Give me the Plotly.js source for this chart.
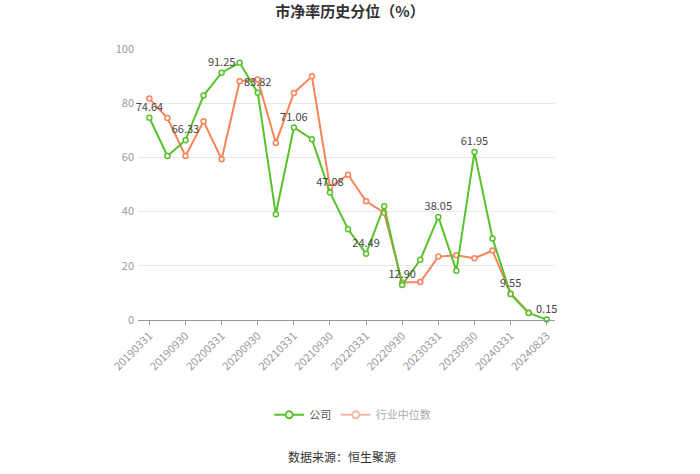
<!DOCTYPE html>
<html>
<head>
<meta charset="utf-8">
<script src="https://cdn.plot.ly/plotly-3.0.1.min.js"></script>
<style>html,body{margin:0;padding:0;background:#fff;}#chart{width:700px;height:474px;}</style>
</head>
<body>
<div id="chart"></div>
<script>
const dates = ['20190331','20190630','20190930','20191231','20200331','20200630','20200930','20201231','20210331','20210630','20210930','20211231','20220331','20220630','20220930','20221231','20230331','20230630','20230930','20231231','20240331','20240630','20240823'];
const company = [74.64, 60.5, 66.33, 82.8, 91.25, 94.9, 83.82, 39.0, 71.06, 66.7, 47.08, 33.5, 24.49, 42.0, 12.90, 22.2, 38.05, 18.2, 61.95, 30.1, 9.55, 2.6, 0.15];
const industry = [81.7, 74.5, 60.5, 73.3, 59.3, 88.1, 88.7, 65.3, 83.8, 89.9, 49.0, 53.6, 43.8, 39.6, 13.8, 14.0, 23.4, 23.9, 22.8, 25.6, 9.8, 2.8, null];
const tickDates = dates.filter((d, i) => i % 2 === 0);
const companyLabels = company.map((v, i) => i % 2 === 0 ? v.toFixed(2) : '');

const green = '#58c22c';
const orange = '#f7845a';
const font = '"Noto Sans CJK SC", "Noto Sans", sans-serif';

const traces = [
  {
    x: dates, y: industry, type: 'scatter', mode: 'lines+markers',
    line: {color: orange, width: 2},
    marker: {symbol: 'circle', size: 5, color: '#fff', line: {color: orange, width: 1.5}},
    showlegend: false, cliponaxis: false
  },
  {
    x: dates, y: company, type: 'scatter', mode: 'lines+markers+text',
    line: {color: green, width: 2},
    marker: {symbol: 'circle', size: 5, color: '#fff', line: {color: green, width: 1.5}},
    text: companyLabels, textposition: 'top center',
    textfont: {family: font, size: 11, color: '#444'},
    showlegend: false, cliponaxis: false
  },
  {
    x: [dates[0]], y: [null], type: 'scatter', mode: 'lines+markers', name: '公司',
    line: {color: green, width: 2},
    marker: {symbol: 'circle', size: 7, color: '#fff', line: {color: green, width: 2}},
    legend: 'legend'
  },
  {
    x: [dates[0]], y: [null], type: 'scatter', mode: 'lines+markers', name: '行业中位数',
    line: {color: '#f6b8a2', width: 2},
    marker: {symbol: 'circle', size: 7, color: '#fff', line: {color: '#f6b8a2', width: 2}},
    legend: 'legend2'
  }
];

const layout = {
  width: 700, height: 474,
  margin: {l: 138, r: 145, t: 49, b: 154},
  paper_bgcolor: '#fff', plot_bgcolor: '#fff',
  font: {family: font, color: '#999'},
  title: {text: '<b>市净率历史分位（%）</b>', x: 0.5, xanchor: 'center', y: 0.975, yanchor: 'middle',
          font: {family: font, size: 15, color: '#333'}},
  xaxis: {
    type: 'category', range: [-0.63, 22.46],
    tickvals: tickDates, ticktext: tickDates, tickangle: -45,
    tickfont: {family: font, size: 11, color: '#999'},
    ticks: 'outside', ticklen: 4, tickcolor: '#999',
    showline: true, linecolor: '#999', linewidth: 1,
    showgrid: false, zeroline: false, fixedrange: true
  },
  yaxis: {
    range: [0, 100], tickvals: [0, 20, 40, 60, 80, 100],
    tickfont: {family: font, size: 11, color: '#999'},
    ticklabelstandoff: 3,
    showgrid: true, gridcolor: '#e8e8e8', gridwidth: 1,
    zeroline: false, showline: false, ticks: '', fixedrange: true
  },
  legend: {orientation: 'h', x: 0.395, xanchor: 'center', y: -0.35, yanchor: 'middle',
           font: {family: font, size: 11, color: '#555'}, itemwidth: 30, bgcolor: 'rgba(0,0,0,0)'},
  legend2: {orientation: 'h', x: 0.594, xanchor: 'center', y: -0.35, yanchor: 'middle',
           font: {family: font, size: 11, color: '#aaa'}, itemwidth: 30, bgcolor: 'rgba(0,0,0,0)'},
  annotations: [
    {text: '数据来源：恒生聚源', xref: 'paper', yref: 'paper', x: 0.49, y: -0.505, yanchor: 'middle',
     showarrow: false, font: {family: font, size: 12, color: '#333'}}
  ]
};

Plotly.newPlot('chart', traces, layout, {displayModeBar: false, staticPlot: true});
</script>
</body>
</html>
